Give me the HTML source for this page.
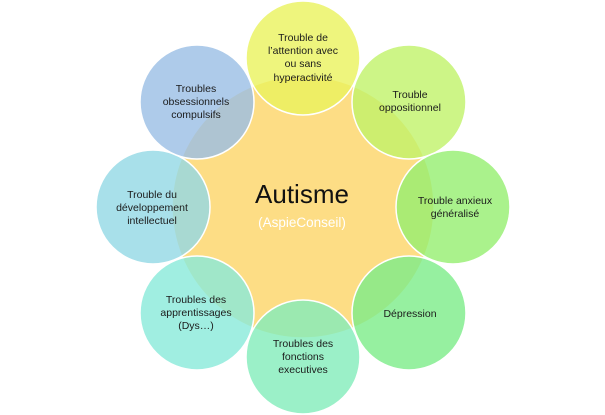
<!DOCTYPE html>
<html><head><meta charset="utf-8"><style>
html,body{margin:0;padding:0;background:#fff}
svg{display:block}
text{font-family:"Liberation Sans",sans-serif;font-size:10.5px;fill:#1b1b1b;text-anchor:middle}
</style></head><body>
<svg width="605" height="415" viewBox="0 0 605 415" xmlns="http://www.w3.org/2000/svg">
<g transform="translate(-3,0)">
<circle cx="306" cy="207" r="131" fill="#fddd85" stroke="#fff" stroke-width="1.5"/>
<g stroke="#fff" stroke-width="1.5">
<circle cx="306" cy="58" r="57" fill="rgba(234,243,92,0.8)"/>
<circle cx="412" cy="102" r="57" fill="rgba(193,243,105,0.8)"/>
<circle cx="456" cy="207" r="57" fill="rgba(149,239,111,0.8)"/>
<circle cx="412" cy="313" r="57" fill="rgba(124,236,136,0.8)"/>
<circle cx="306" cy="357" r="57" fill="rgba(130,236,186,0.8)"/>
<circle cx="200" cy="313" r="57" fill="rgba(136,234,218,0.8)"/>
<circle cx="156" cy="207" r="57" fill="rgba(146,216,229,0.8)"/>
<circle cx="200" cy="102" r="57" fill="rgba(154,190,229,0.8)"/>
</g>
<text x="306" y="41">Trouble de</text>
<text x="306" y="54">l’attention avec</text>
<text x="306" y="67">ou sans</text>
<text x="306" y="81">hyperactivité</text>
<text x="413" y="98">Trouble</text>
<text x="413" y="111">oppositionnel</text>
<text x="458" y="204">Trouble anxieux</text>
<text x="458" y="217">généralisé</text>
<text x="413" y="317">Dépression</text>
<text x="306" y="347">Troubles des</text>
<text x="306" y="360">fonctions</text>
<text x="306" y="373">executives</text>
<text x="199" y="303">Troubles des</text>
<text x="199" y="316">apprentissages</text>
<text x="199" y="329">(Dys…)</text>
<text x="155" y="198">Trouble du</text>
<text x="155" y="211">développement</text>
<text x="155" y="224">intellectuel</text>
<text x="199" y="92">Troubles</text>
<text x="199" y="105">obsessionnels</text>
<text x="199" y="118">compulsifs</text>
<text x="305" y="203" style="font-size:26px;fill:#111">Autisme</text>
<text x="305" y="227" style="font-size:13.5px;fill:#fff">(AspieConseil)</text>
</g>
</svg>
</body></html>
